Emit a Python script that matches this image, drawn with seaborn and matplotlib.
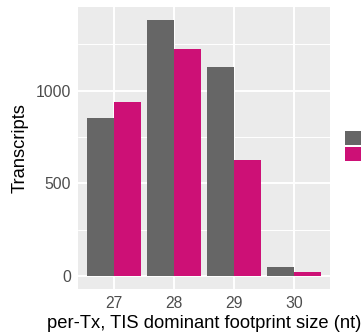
import pandas as pd
import matplotlib
matplotlib.use("Agg")
import matplotlib.pyplot as plt
from matplotlib.patches import Patch
from matplotlib.ticker import MultipleLocator
import seaborn as sns

# Datos
sizes = ["27", "28", "29", "30"]
groups = ["all", "filtered"]
counts_all = [853, 1381, 1128, 52]
counts_filtered = [939, 1225, 627, 23]
colores = ["#666666", "#CD1076"]

df = pd.DataFrame({
    "size": sizes * 2,
    "count": counts_all + counts_filtered,
    "group": [groups[0]] * len(sizes) + [groups[1]] * len(sizes),
})

sns.set_theme(style="darkgrid", rc={
    "axes.facecolor": "#EBEBEB",
    "grid.color": "white",
    "figure.facecolor": "white",
})
plt.rcParams["font.family"] = ["Liberation Sans", "DejaVu Sans"]

W, H = 361, 334
fig = plt.figure(figsize=(W / 100, H / 100), dpi=100)
ax = fig.add_axes([78 / W, (H - 289) / H, (330 - 78) / W, (289 - 7) / H])

sns.barplot(data=df, x="size", y="count", hue="group", hue_order=groups,
            palette=colores, width=0.9, gap=0, saturation=1, legend=False,
            linewidth=0, edgecolor="none", ax=ax)

ax.set_xlim(-0.6, 3.6)
ax.set_ylim(-69, 1450)
ax.set_yticks([0, 500, 1000])
ax.yaxis.set_minor_locator(MultipleLocator(250))
ax.grid(which="major", color="white", linewidth=1.4)
ax.grid(which="minor", axis="y", color="white", linewidth=0.7)
ax.set_axisbelow(True)
for s in ax.spines.values():
    s.set_visible(False)

ax.tick_params(which="major", length=3, width=0.8, color="#333333",
               labelsize=11.3, labelcolor="#4D4D4D", pad=2)
ax.tick_params(which="minor", length=0)
ax.set_xlabel("per-Tx, TIS dominant footprint size (nt)", fontsize=13.2, color="black", labelpad=3)
ax.set_ylabel("Transcripts", fontsize=13.2, color="black", labelpad=5)

handles = [Patch(facecolor=c, edgecolor="none") for c in colores]
fig.legend(handles, ["", ""], loc="upper left", bbox_to_anchor=(345 / W, 1 - 131 / H),
           bbox_transform=fig.transFigure, frameon=False, fontsize=10,
           handlelength=1.5, handleheight=1.22, labelspacing=0.07,
           borderpad=0, borderaxespad=0, handletextpad=0.3)

fig.savefig("out.png", dpi=100)
